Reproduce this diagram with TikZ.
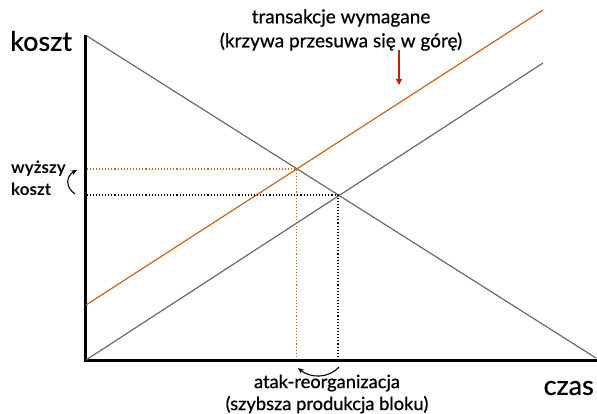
\documentclass[tikz,border=0pt]{standalone}
\usepackage{fontspec}
\setmainfont{Lato}
\newfontfamily\medfont[FakeBold=0.7]{Lato}
\usetikzlibrary{arrows.meta}
\definecolor{curveorange}{HTML}{C8651E}
\definecolor{curvegray}{HTML}{6A6A6A}
\definecolor{arrowred}{HTML}{C0200C}
\begin{document}
\begin{tikzpicture}[x=1pt,y=-1pt,
  axis/.style={line width=3pt,black},
  curve/.style={line width=1.2pt},
  guide/.style={line width=1.1pt,dotted},
  toplbl/.style={font=\medfont\fontsize{19}{24}\selectfont,align=center,inner sep=0pt},
  botlbl/.style={font=\medfont\fontsize{18.3}{22}\selectfont,align=center,inner sep=0pt},
  sidelbl/.style={font=\bfseries\fontsize{17}{22}\selectfont,align=left,inner sep=0pt},
  biglbl/.style={font=\medfont\fontsize{27}{30}\selectfont,inner sep=0pt},
  smallarrow/.style={-{Stealth[length=6pt,width=5pt]},line width=1.1pt}]
\useasboundingbox (0,0) rectangle (597,414);
% axes
\coordinate (O) at (85,360);
\coordinate (Ytop) at (85,35);
\coordinate (Xend) at (597,360);
\draw[axis] (Ytop) -- (O) -- (Xend);
% curves
\coordinate (D1) at (87,36);
\coordinate (D2) at (596,358);
\coordinate (S1) at (86,360);
\coordinate (S2) at (543,63);
\coordinate (T1) at (86,305);
\coordinate (T2) at (543,10);
\draw[curve,curvegray] (D1) -- (D2);
\draw[curve,curvegray] (S1) -- (S2);
\draw[curve,curveorange] (T1) -- (T2);
% intersections
\coordinate (Pold) at (338,195);
\coordinate (Pnew) at (296.5,169);
\draw[guide,black] (86.5,195) -- (Pold) -- (338,358);
\draw[guide,curveorange] (86.5,169) -- (Pnew) -- (296.5,358);
% labels
\node[biglbl,anchor=west] (ky) at (10,41) {koszt};
\node[biglbl,anchor=east] (kx) at (594,388) {czas};
\node[toplbl] (top) at (341,30) {transakcje wymagane\\(krzywa przesuwa się w górę)};
\coordinate (ra1) at (399,50);
\coordinate (ra2) at (399,85);
\draw[-{Triangle[length=6pt,width=6pt]},line width=1.2pt,arrowred] (ra1) -- (ra2);
\node[sidelbl,anchor=west] (hi) at (11,178) {wyższy\\koszt};
\coordinate (ha1) at (75,194);
\coordinate (ha2) at (77,170);
\draw[smallarrow] (ha1) .. controls (65,187) and (66,176) .. (ha2);
\node[botlbl] (bot) at (327,394) {atak-reorganizacja\\(szybsza produkcja bloku)};
\coordinate (ba1) at (339,367);
\coordinate (ba2) at (298,368);
\draw[smallarrow] (ba1) .. controls (328,379) and (310,378) .. (ba2);
\end{tikzpicture}
\end{document}
